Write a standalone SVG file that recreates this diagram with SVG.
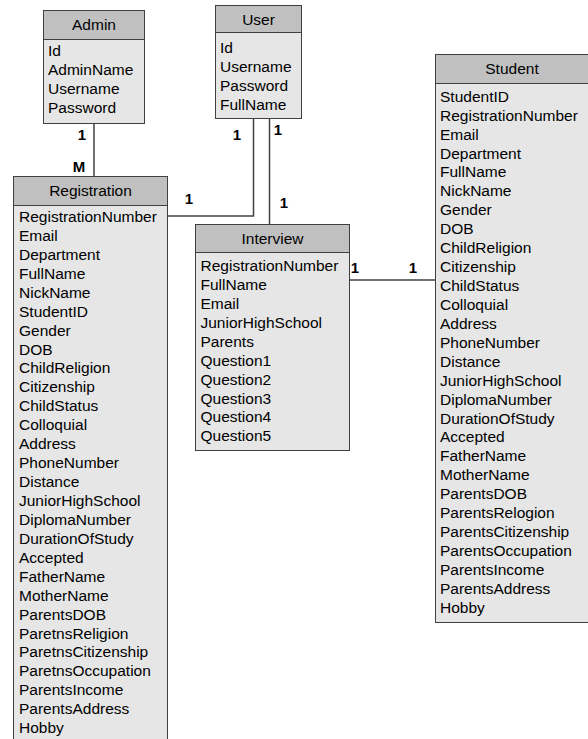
<svg xmlns="http://www.w3.org/2000/svg" width="588" height="739" viewBox="0 0 588 739">
<style>
.hd{fill:#c0c0c0;stroke:#404040;stroke-width:1}
.bd{fill:#e6e6e6;stroke:#404040;stroke-width:1}
.t{font-family:"Liberation Sans",Arial,sans-serif;font-size:15.5px;fill:#000}
.h{font-family:"Liberation Sans",Arial,sans-serif;font-size:15.5px;fill:#000;text-anchor:middle}
.l{font-family:"Liberation Sans",Arial,sans-serif;font-size:15px;font-weight:bold;fill:#000;text-anchor:middle}
.c{fill:none;stroke:#404040;stroke-width:1.5}
</style>
<rect width="588" height="739" fill="#fff"/>
<g id="connectors">
<path class="c" d="M94,113 V176"/>
<path class="c" d="M253.5,118 V216 H167"/>
<path class="c" d="M269.5,118 V224"/>
<path class="c" d="M349,280 H435"/>
<text class="l" x="82" y="140">1</text>
<text class="l" x="79" y="172">M</text>
<text class="l" x="237" y="140">1</text>
<text class="l" x="278" y="135">1</text>
<text class="l" x="189" y="204">1</text>
<text class="l" x="284" y="208">1</text>
<text class="l" x="355" y="273">1</text>
<text class="l" x="413" y="273">1</text>
</g>
<g id="admin">
<rect class="bd" x="43.5" y="10.5" width="101" height="113"/>
<rect class="hd" x="43.5" y="10.5" width="101" height="29"/>
<text class="h" x="94" y="30">Admin</text>
<text class="t" x="48" y="56">Id</text>
<text class="t" x="48" y="75">AdminName</text>
<text class="t" x="48" y="94">Username</text>
<text class="t" x="48" y="113">Password</text>
</g>
<g id="user">
<rect class="bd" x="215.5" y="5.5" width="86" height="113"/>
<rect class="hd" x="215.5" y="5.5" width="86" height="27"/>
<text class="h" x="258.5" y="25">User</text>
<text class="t" x="220" y="52.5">Id</text>
<text class="t" x="220" y="71.5">Username</text>
<text class="t" x="220" y="90.5">Password</text>
<text class="t" x="220" y="109.5">FullName</text>
</g>
<g id="registration">
<rect class="bd" x="13.5" y="176.5" width="154" height="575"/>
<rect class="hd" x="13.5" y="176.5" width="154" height="29"/>
<text class="h" x="90.5" y="196">Registration</text>
<text class="t" x="19" y="222">RegistrationNumber</text>
<text class="t" x="19" y="240.9">Email</text>
<text class="t" x="19" y="259.9">Department</text>
<text class="t" x="19" y="278.8">FullName</text>
<text class="t" x="19" y="297.7">NickName</text>
<text class="t" x="19" y="316.6">StudentID</text>
<text class="t" x="19" y="335.6">Gender</text>
<text class="t" x="19" y="354.5">DOB</text>
<text class="t" x="19" y="373.4">ChildReligion</text>
<text class="t" x="19" y="392.4">Citizenship</text>
<text class="t" x="19" y="411.3">ChildStatus</text>
<text class="t" x="19" y="430.2">Colloquial</text>
<text class="t" x="19" y="449.2">Address</text>
<text class="t" x="19" y="468.1">PhoneNumber</text>
<text class="t" x="19" y="487">Distance</text>
<text class="t" x="19" y="505.9">JuniorHighSchool</text>
<text class="t" x="19" y="524.9">DiplomaNumber</text>
<text class="t" x="19" y="543.8">DurationOfStudy</text>
<text class="t" x="19" y="562.7">Accepted</text>
<text class="t" x="19" y="581.7">FatherName</text>
<text class="t" x="19" y="600.6">MotherName</text>
<text class="t" x="19" y="619.5">ParentsDOB</text>
<text class="t" x="19" y="638.5">ParetnsReligion</text>
<text class="t" x="19" y="657.4">ParetnsCitizenship</text>
<text class="t" x="19" y="676.3">ParetnsOccupation</text>
<text class="t" x="19" y="695.2">ParentsIncome</text>
<text class="t" x="19" y="714.2">ParentsAddress</text>
<text class="t" x="19" y="733.1">Hobby</text>
</g>
<g id="interview">
<rect class="bd" x="195.5" y="224.5" width="154" height="226"/>
<rect class="hd" x="195.5" y="224.5" width="154" height="28"/>
<text class="h" x="272.5" y="243.5">Interview</text>
<text class="t" x="200.5" y="271">RegistrationNumber</text>
<text class="t" x="200.5" y="289.9">FullName</text>
<text class="t" x="200.5" y="308.9">Email</text>
<text class="t" x="200.5" y="327.8">JuniorHighSchool</text>
<text class="t" x="200.5" y="346.7">Parents</text>
<text class="t" x="200.5" y="365.6">Question1</text>
<text class="t" x="200.5" y="384.6">Question2</text>
<text class="t" x="200.5" y="403.5">Question3</text>
<text class="t" x="200.5" y="422.4">Question4</text>
<text class="t" x="200.5" y="441.4">Question5</text>
</g>
<g id="student">
<rect class="bd" x="435.5" y="54.5" width="160" height="568"/>
<rect class="hd" x="435.5" y="54.5" width="160" height="29"/>
<text class="h" x="512" y="74">Student</text>
<text class="t" x="440" y="101.7">StudentID</text>
<text class="t" x="440" y="120.6">RegistrationNumber</text>
<text class="t" x="440" y="139.6">Email</text>
<text class="t" x="440" y="158.5">Department</text>
<text class="t" x="440" y="177.4">FullName</text>
<text class="t" x="440" y="196.4">NickName</text>
<text class="t" x="440" y="215.3">Gender</text>
<text class="t" x="440" y="234.2">DOB</text>
<text class="t" x="440" y="253.1">ChildReligion</text>
<text class="t" x="440" y="272.1">Citizenship</text>
<text class="t" x="440" y="291">ChildStatus</text>
<text class="t" x="440" y="309.9">Colloquial</text>
<text class="t" x="440" y="328.9">Address</text>
<text class="t" x="440" y="347.8">PhoneNumber</text>
<text class="t" x="440" y="366.7">Distance</text>
<text class="t" x="440" y="385.7">JuniorHighSchool</text>
<text class="t" x="440" y="404.6">DiplomaNumber</text>
<text class="t" x="440" y="423.5">DurationOfStudy</text>
<text class="t" x="440" y="442.4">Accepted</text>
<text class="t" x="440" y="461.4">FatherName</text>
<text class="t" x="440" y="480.3">MotherName</text>
<text class="t" x="440" y="499.2">ParentsDOB</text>
<text class="t" x="440" y="518.2">ParentsRelogion</text>
<text class="t" x="440" y="537.1">ParentsCitizenship</text>
<text class="t" x="440" y="556">ParentsOccupation</text>
<text class="t" x="440" y="575">ParentsIncome</text>
<text class="t" x="440" y="593.9">ParentsAddress</text>
<text class="t" x="440" y="612.8">Hobby</text>
</g>
</svg>
